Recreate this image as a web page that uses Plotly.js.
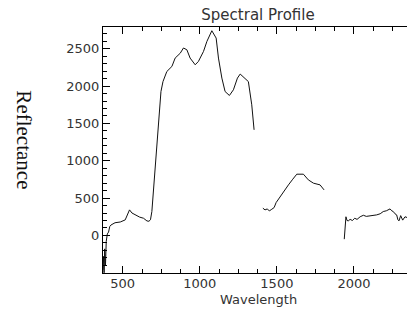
<!DOCTYPE html>
<html>
<head>
<meta charset="utf-8">
<script src="https://cdn.plot.ly/plotly-3.0.1.min.js"></script>
<style>html,body{margin:0;padding:0;overflow:hidden;background:#fff}</style>
</head>
<body>
<div id="chart" style="width:407px;height:309px"></div>
<script>
const wavelength = [372,376,379,383,388,393,400,408,416,424,450,484,516,544,560,581,610,635,657,670,680,689,700,711,732,748,761,786,819,840,873,894,916,937,970,991,1024,1046,1078,1106,1121,1143,1164,1192,1218,1244,1262,1273,1294,1315,1337,1352,
  1380,
  1409,1423,1438,1451,1467,1482,1495,1521,1542,1575,1603,1629,1672,1704,1737,1780,1806,
  1870,
  1937,1940,1948,1955,1963,1975,1990,2005,2020,2040,2061,2080,2104,2125,2147,2170,2190,2210,2234,2245,2255,2266,2277,2285,2292,2303,2316,2331,2344];
const reflectance = [-460,-280,-500,-180,-400,-80,20,45,120,140,170,180,208,342,300,275,245,230,194,190,210,320,620,900,1480,1927,2060,2195,2263,2375,2440,2510,2486,2375,2285,2330,2464,2598,2741,2643,2375,2107,1927,1874,1950,2107,2161,2142,2107,2060,1749,1414,
  null,
  365,342,355,328,351,373,440,520,587,677,753,820,820,744,700,677,610,
  null,
  -50,80,250,200,195,215,200,230,215,250,270,255,260,265,275,290,320,330,355,330,320,290,275,210,195,265,205,250,240];
const xTickVals = [500,1000,1500,2000];
const yTickVals = [0,500,1000,1500,2000,2500];

const tickFont = {family:'DejaVu Sans', size:13, color:'#333'};
const trace = {
  x: wavelength, y: reflectance, type:'scatter', mode:'lines',
  connectgaps:false, line:{color:'#111', width:1}, hoverinfo:'skip'
};
const layout = {
  width:407, height:309,
  margin:{l:102.5, r:0, t:27, b:36},
  paper_bgcolor:'#fff', plot_bgcolor:'#fff',
  showlegend:false,
  title:{text:'Spectral Profile', font:{family:'DejaVu Sans', size:15, color:'#333'},
         x:258/407, xanchor:'center', y:1-15/309, yanchor:'middle', xref:'container', yref:'container'},
  xaxis:{range:[372,2344], tickvals:xTickVals, ticktext:xTickVals.map(String),
         ticks:'inside', ticklen:7, tickcolor:'#000', tickwidth:1, ticklabelstandoff:-2,
         minor:{dtick:125, tick0:0, ticks:'inside', ticklen:4, tickcolor:'#000'},
         showline:true, linecolor:'#000', linewidth:1, mirror:'ticks',
         showgrid:false, zeroline:false, tickfont:tickFont, automargin:false},
  yaxis:{range:[-503,2791], tickvals:yTickVals, ticktext:yTickVals.map(String),
         ticks:'inside', ticklen:7, tickcolor:'#000', tickwidth:1,
         minor:{dtick:100, tick0:0, ticks:'inside', ticklen:4, tickcolor:'#000'},
         showline:true, linecolor:'#000', linewidth:1, mirror:false,
         showgrid:false, zeroline:false, tickfont:tickFont, automargin:false},
  annotations:[
    {text:'Wavelength', xref:'paper', yref:'paper', x:(258-102.5)/304.5, y:(273-299.5)/246,
     xanchor:'center', yanchor:'middle', showarrow:false,
     font:{family:'DejaVu Sans', size:13, color:'#333'}},
    {text:'Reflectance', xref:'paper', yref:'paper', x:(23-102.5)/304.5, y:(273-140)/246,
     xanchor:'center', yanchor:'middle', showarrow:false, textangle:90,
     font:{family:'Liberation Serif', size:21, color:'#111'}}
  ]
};
Plotly.newPlot('chart', [trace], layout, {staticPlot:true, displayModeBar:false});
</script>
</body>
</html>
